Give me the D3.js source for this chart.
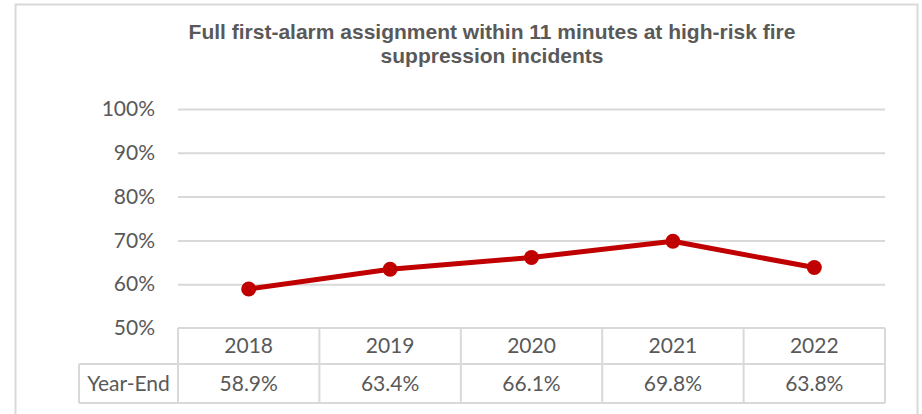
<!DOCTYPE html>
<html>
<head>
<meta charset="utf-8">
<script src="https://cdn.jsdelivr.net/npm/d3@7"></script>
<style>
  html, body { margin: 0; padding: 0; background: #fff; }
  svg { display: block; }
</style>
</head>
<body>
<div id="chart"></div>
<script>
var years = ['2018', '2019', '2020', '2021', '2022'];
var yearEnd = [58.9, 63.4, 66.1, 69.8, 63.8];
var yTicks = [50, 60, 70, 80, 90, 100];
var rowLabel = 'Year-End';
var titleLines = ['Full first-alarm assignment within 11 minutes at high-risk fire',
                  'suppression incidents'];

var width = 922, height = 414;
var plot = { left: 178, right: 885, top: 109, bottom: 328 };
var tableLeft = 79, row1 = 364, row2 = 403;
var grey = '#d9d9d9', textColor = '#595959', red = '#c00000';

var svg = d3.select('#chart').append('svg')
    .attr('width', width)
    .attr('height', height);

// outer chart border
svg.append('path')
    .attr('d', 'M15.5,' + height + ' V4.5 H917.5 V' + height)
    .attr('fill', 'none')
    .attr('stroke', grey)
    .attr('stroke-width', 2);

// title
svg.append('g').selectAll('text')
    .data(titleLines)
    .enter().append('text')
    .attr('x', 492)
    .attr('y', (d, i) => 39 + i * 24)
    .attr('text-anchor', 'middle')
    .attr('font-family', 'Liberation Sans, Arial, sans-serif')
    .attr('font-weight', 'bold')
    .attr('font-size', 21)
    .attr('fill', textColor)
    .text(d => d);

var x = d3.scaleBand().domain(years).range([plot.left, plot.right]);
var y = d3.scaleLinear().domain([50, 100]).range([plot.bottom, plot.top]);

// y axis with gridlines
var yAxis = svg.append('g')
    .attr('transform', `translate(${plot.left},0)`)
    .call(d3.axisLeft(y).tickValues(yTicks)
        .tickSize(-(plot.right - plot.left))
        .tickPadding(23)
        .tickFormat(d => d + '%'));
yAxis.select('.domain').remove();
yAxis.selectAll('line')
    .attr('stroke', grey)
    .attr('stroke-width', 2)
    .filter(d => d === 50).remove();
yAxis.selectAll('text')
    .attr('font-family', 'Lato, Calibri, sans-serif')
    .attr('font-size', 21)
    .attr('fill', textColor);

// data table
var table = svg.append('g')
    .attr('stroke', grey)
    .attr('stroke-width', 2)
    .attr('fill', 'none');
table.append('line').attr('x1', plot.left).attr('x2', plot.right).attr('y1', plot.bottom).attr('y2', plot.bottom);
table.append('line').attr('x1', tableLeft).attr('x2', plot.right).attr('y1', row1).attr('y2', row1);
table.append('line').attr('x1', tableLeft).attr('x2', plot.right).attr('y1', row2).attr('y2', row2);
table.append('line').attr('x1', tableLeft).attr('x2', tableLeft).attr('y1', row1).attr('y2', row2);
table.selectAll('.vline')
    .data(years.map(d => x(d)).concat([plot.right]))
    .enter().append('line')
    .attr('x1', d => d).attr('x2', d => d)
    .attr('y1', plot.bottom).attr('y2', row2);

var cellText = svg.append('g')
    .attr('font-family', 'Lato, Calibri, sans-serif')
    .attr('font-size', 21)
    .attr('fill', textColor)
    .attr('text-anchor', 'middle');
cellText.selectAll('.yr')
    .data(years)
    .enter().append('text')
    .attr('x', d => x(d) + x.bandwidth() / 2)
    .attr('y', 353)
    .text(d => d);
cellText.selectAll('.val')
    .data(yearEnd)
    .enter().append('text')
    .attr('x', (d, i) => x(years[i]) + x.bandwidth() / 2)
    .attr('y', 391)
    .text(d => d.toFixed(1) + '%');
cellText.append('text')
    .attr('x', (tableLeft + plot.left) / 2)
    .attr('y', 391)
    .text(rowLabel);

// line + markers
var line = d3.line()
    .x((d, i) => x(years[i]) + x.bandwidth() / 2)
    .y(d => y(d));

svg.append('path')
    .datum(yearEnd)
    .attr('d', line)
    .attr('fill', 'none')
    .attr('stroke', red)
    .attr('stroke-width', 5)
    .attr('stroke-linejoin', 'round');

svg.append('g').selectAll('circle')
    .data(yearEnd)
    .enter().append('circle')
    .attr('cx', (d, i) => x(years[i]) + x.bandwidth() / 2)
    .attr('cy', d => y(d))
    .attr('r', 7.5)
    .attr('fill', red);
</script>
</body>
</html>
